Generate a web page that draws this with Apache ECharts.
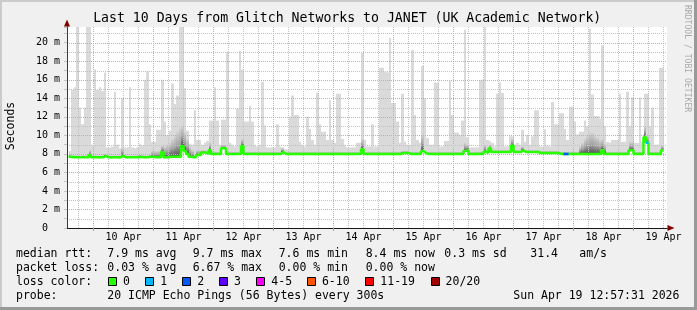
<!DOCTYPE html>
<html>
<head>
<meta charset="utf-8">
<script src="https://cdn.jsdelivr.net/npm/echarts@6/dist/echarts.min.js"></script>
<style>
html,body{margin:0;padding:0;background:#f0f0f0;}
#chart{width:697px;height:310px;}
</style>
</head>
<body>
<div id="chart"></div>
<script>
// ---------------- data ----------------
// hourly bins; hour values are hours after 9 Apr 00:00
const firstHour = 14;

// median RTT (ms) per hourly bin
const median = [
  7.7, 7.63, 7.63, 7.63, 7.63, 7.63, 7.63, 7.63, 7.85, 7.63,
  7.63, 7.63, 7.63, 7.63, 7.8, 7.63, 7.63, 7.63, 7.63, 7.63,
  7.63, 7.8, 7.63, 7.63, 7.63, 7.63, 7.63, 7.63, 7.7, 7.63,
  7.63, 7.63, 7.7, 7.7, 7.63, 7.63, 7.63, 8.2, 7.63, 7.63,
  7.7, 7.7, 7.7, 7.7, 7.7, 8.86, 8.3, 8.0, 7.7, 7.63,
  7.63, 7.88, 7.88, 8.15, 8.15, 8.0, 8.4, 8.0, 8.0, 8.0,
  8.0, 8.6, 8.6, 8.0, 8.0, 8.0, 8.0, 8.0, 8.0, 8.86,
  8.0, 8.0, 8.0, 8.0, 8.0, 8.0, 8.0, 8.0, 8.0, 8.0,
  8.0, 8.0, 8.0, 8.0, 8.0, 8.2, 8.0, 8.0, 8.0, 8.0,
  8.0, 8.0, 8.0, 8.0, 8.0, 8.0, 8.0, 8.0, 8.0, 8.0,
  8.0, 8.0, 8.0, 8.0, 8.0, 8.0, 8.0, 8.0, 8.0, 8.0,
  8.0, 8.0, 8.0, 8.0, 8.0, 8.0, 8.0, 8.5, 8.0, 8.0,
  8.0, 8.0, 8.0, 8.0, 8.0, 8.0, 8.0, 8.0, 8.0, 8.0,
  8.0, 8.0, 8.0, 8.1, 8.1, 8.1, 8.0, 8.0, 8.0, 8.0,
  8.0, 8.3, 8.1, 8.0, 8.0, 8.0, 8.0, 8.0, 8.0, 8.0,
  8.0, 8.0, 8.0, 8.0, 8.0, 8.0, 8.0, 8.0, 8.3, 8.4,
  8.0, 8.0, 8.0, 8.0, 8.0, 8.0, 8.25, 8.1, 8.6, 8.2,
  8.2, 8.2, 8.2, 8.2, 8.2, 8.2, 8.2, 8.9, 8.2, 8.2,
  8.2, 8.4, 8.2, 8.2, 8.2, 8.2, 8.2, 8.2, 8.1, 8.1,
  8.1, 8.1, 8.1, 8.1, 8.1, 8.1, 8.0, 8.0, 8.0, 8.0,
  8.0, 8.0, 8.0, 8.0, 8.0, 8.0, 8.0, 8.0, 8.0, 8.0,
  8.0, 8.0, 8.0, 8.4, 8.0, 8.0, 8.0, 8.0, 8.0, 8.0,
  8.0, 8.0, 8.0, 8.0, 8.4, 8.4, 8.0, 8.0, 8.0, 8.0,
  9.8, 9.2, 8.0, 8.0, 8.0, 8.0, 8.0, 8.4
];

// top of the dense (dark) smoke per bin (ms)
const smokeMid = [
  7.9, 7.83, 7.83, 7.83, 7.83, 7.83, 7.83, 7.83, 8.4, 7.83,
  7.83, 7.83, 7.83, 7.83, 8.0, 7.83, 7.83, 7.83, 7.83, 7.83,
  7.83, 8.6, 7.83, 7.83, 7.83, 7.83, 7.83, 7.83, 7.9, 7.83,
  7.83, 7.83, 7.9, 8.3, 8.3, 8.3, 8.3, 8.9, 8.8, 9.0,
  9.2, 9.6, 10.0, 10.4, 10.8, 11.0, 10.4, 9.6, 8.8, 8.4,
  7.83, 8.4, 8.4, 8.4, 8.4, 8.2, 9.2, 8.2, 8.2, 8.2,
  8.2, 9.0, 9.0, 8.2, 8.2, 8.2, 8.2, 8.2, 8.2, 9.6,
  8.2, 8.2, 8.2, 8.2, 8.2, 8.2, 8.2, 8.2, 8.2, 8.2,
  8.2, 8.2, 8.2, 8.2, 8.2, 8.6, 8.2, 8.2, 8.2, 8.2,
  8.2, 8.2, 8.2, 8.2, 8.2, 8.2, 8.2, 8.2, 8.2, 8.2,
  8.2, 8.2, 8.2, 8.2, 8.2, 8.2, 8.2, 8.2, 8.2, 8.2,
  8.2, 8.2, 8.2, 8.2, 8.2, 8.2, 8.2, 9.6, 8.2, 8.2,
  8.2, 8.2, 8.2, 8.2, 8.2, 8.2, 8.2, 8.2, 8.2, 8.2,
  8.2, 8.2, 8.2, 8.3, 8.3, 8.3, 8.2, 8.2, 8.2, 8.2,
  8.2, 10.1, 8.3, 8.2, 8.2, 8.2, 8.2, 8.2, 8.2, 8.2,
  8.2, 8.2, 8.2, 8.2, 8.2, 8.2, 8.2, 8.2, 9.2, 9.0,
  8.2, 8.2, 8.2, 8.2, 8.2, 8.2, 9.0, 8.3, 9.0, 8.4,
  8.4, 8.4, 8.4, 8.4, 8.4, 8.4, 8.4, 9.6, 8.4, 8.4,
  8.4, 8.8, 8.4, 8.4, 8.4, 8.4, 8.4, 8.4, 8.3, 8.3,
  8.3, 8.3, 8.3, 8.3, 8.3, 8.3, 8.2, 8.2, 8.2, 8.2,
  8.2, 8.2, 8.2, 8.2, 8.8, 9.2, 9.6, 10.0, 10.3, 10.3,
  10.0, 9.8, 9.5, 9.6, 9.1, 8.2, 8.2, 8.2, 8.2, 8.2,
  8.2, 8.2, 8.2, 8.2, 9.3, 9.3, 8.2, 8.2, 8.2, 8.2,
  11.0, 10.0, 8.2, 8.2, 8.2, 8.2, 8.2, 8.9
];

// top of the light smoke (slowest ping) per bin (ms)
const smokeMax = [
  8.3, 14.9, 15.2, 21.7, 13.0, 11.2, 13.0, 21.7, 21.7, 9.0,
  17.1, 14.9, 15.2, 14.8, 16.8, 8.7, 8.7, 8.8, 14.7, 9.0,
  8.6, 14.0, 8.7, 8.7, 15.2, 8.7, 8.6, 8.7, 9.1, 8.9,
  16.0, 16.9, 11.2, 9.3, 9.3, 10.6, 10.6, 16.0, 11.5, 10.0,
  10.5, 15.6, 13.4, 14.3, 21.7, 21.7, 15.1, 10.5, 9.1, 9.0,
  12.7, 9.5, 9.5, 9.0, 9.2, 9.4, 11.6, 11.6, 15.2, 11.6,
  9.0, 11.7, 11.7, 19.0, 9.2, 9.0, 8.8, 12.9, 19.1, 17.1,
  11.5, 11.5, 13.2, 11.5, 9.0, 8.8, 9.0, 15.8, 11.1, 8.7,
  8.7, 8.7, 8.7, 11.2, 8.8, 8.7, 8.5, 8.5, 12.0, 14.3,
  12.2, 12.2, 9.3, 9.0, 8.8, 12.0, 10.7, 9.5, 9.0, 14.6,
  11.2, 10.4, 10.4, 9.5, 13.8, 9.5, 9.2, 14.5, 14.5, 9.6,
  9.0, 8.7, 8.7, 8.7, 8.7, 9.2, 9.2, 18.9, 9.5, 8.8,
  8.8, 11.2, 8.8, 8.8, 17.3, 17.3, 16.9, 16.8, 20.5, 13.5,
  13.5, 11.5, 9.2, 14.5, 9.3, 9.0, 9.0, 19.2, 12.2, 9.5,
  9.2, 17.5, 14.0, 9.7, 9.0, 9.0, 15.7, 15.7, 8.8, 8.8,
  9.4, 9.4, 15.9, 12.2, 10.3, 10.3, 10.0, 11.6, 21.4, 9.8,
  8.7, 8.7, 8.7, 8.7, 16.0, 16.0, 21.7, 9.5, 9.4, 9.2,
  8.8, 14.5, 15.7, 14.6, 8.8, 8.8, 9.9, 9.9, 9.0, 9.2,
  9.0, 10.6, 9.3, 10.0, 9.0, 9.9, 12.7, 12.7, 8.8, 8.8,
  10.7, 8.9, 8.8, 13.6, 11.2, 11.2, 12.4, 12.4, 10.7, 9.5,
  13.1, 13.1, 11.5, 10.1, 10.4, 10.4, 11.6, 11.0, 21.5, 14.4,
  12.1, 12.1, 11.8, 19.7, 11.0, 9.3, 9.2, 9.5, 9.5, 9.5,
  14.5, 9.3, 9.3, 14.7, 11.0, 14.1, 9.2, 9.2, 14.1, 9.3,
  14.5, 14.5, 11.0, 13.0, 9.0, 9.0, 17.3, 17.3
];

// bins that lost pings, and how many were lost
const lossBinHours = [212, 213, 245];
const lossBinCounts = [2, 2, 1];

// x axis tick labels
const dayLabels = ['10 Apr', '11 Apr', '12 Apr', '13 Apr', '14 Apr', '15 Apr', '16 Apr', '17 Apr', '18 Apr', '19 Apr'];
const dayLabelHours = [36, 60, 84, 108, 132, 156, 180, 204, 228, 252];
const midnightHours = [24, 48, 72, 96, 120, 144, 168, 192, 216, 240];

// legend texts
const titleText = 'Last 10 Days from Glitch Networks to JANET (UK Academic Network)';
const rttStats = ['7.9 ms avg', '9.7 ms max', '7.6 ms min', '8.4 ms now', '0.3 ms sd', '31.4', 'am/s'];
const lossStats = ['0.03 % avg', '6.67 % max', '0.00 % min', '0.00 % now'];
const lossLabels = ['0', '1', '2', '3', '4-5', '6-10', '11-19', '20/20'];
const lossColors = ['#26ff00', '#00b8ff', '#0059ff', '#5e00ff', '#ff00ff', '#ff5500', '#ff0000', '#a10000'];
const probeText = '20 ICMP Echo Pings (56 Bytes) every 300s';
const stampText = 'Sun Apr 19 12:57:31 2026';

// ---------------- layout / style ----------------
const X_MIN = 13.4, X_MAX = 253.4, Y_MAX = 21.7;
const MONO = 'DejaVu Sans Mono';
const statCols = [107.3, 192.7, 278.7, 365.7, 444.3, 530.3, 579.3];
const lossBoxX = [108.3, 145.7, 182.7, 219.3, 256.7, 307.3, 365.7, 431];
const rowY = [254.5, 268.3, 282.1, 295.8];
const MINOR = '#c2c2c2';
const MAJOR = '#ee9a9a';

const chart = echarts.init(document.getElementById('chart'), null, {renderer: 'canvas'});

const smokeData = median.map((m, i) => [firstHour + i, m, smokeMid[i], smokeMax[i]]);
const medianData = median.map((m, i) => [firstHour + i, m]);
medianData.push([firstHour + median.length, median[median.length - 1]]);

const darkSmoke = new echarts.graphic.LinearGradient(0, 0, 0, 1, [
  {offset: 0, color: '#d4d4d4'},
  {offset: 0.55, color: '#a4a4a4'},
  {offset: 1, color: '#505050'}
]);

function renderSmoke(params, api) {
  const h = api.value(0), m = api.value(1), mid = api.value(2), top = api.value(3);
  const a = api.coord([h, top]);
  const b = api.coord([h + 1, m]);
  const c = api.coord([h, mid]);
  const x0 = Math.round(a[0]), x1 = Math.round(b[0]);
  return {
    type: 'group',
    children: [
      {type: 'rect', shape: {x: x0, y: a[1], width: x1 - x0, height: b[1] - a[1]}, style: {fill: '#dadada'}},
      {type: 'rect', shape: {x: x0, y: c[1], width: x1 - x0, height: b[1] - c[1]}, style: {fill: darkSmoke}}
    ]
  };
}

// grid lines: horizontal every 1 ms (red every 2), vertical every 6 h (red at midnight)
const hGrid = [];
for (let v = 1; v <= 21; v++) hGrid.push([X_MIN, v, v % 2 ? 0 : 1]);
const vGrid = [];
for (let h = 18; h <= 252; h += 6) vGrid.push([h, 0, h % 24 ? 0 : 1]);

// dotted line drawn as a row of 1x1 pixel dots
function dots(x0, y0, len, horizontal, color) {
  const pts = [];
  for (let d = 0; d < len; d += 2) {
    pts.push(horizontal ? {type: 'rect', shape: {x: x0 + d, y: y0, width: 1, height: 1}, style: {fill: color}}
                        : {type: 'rect', shape: {x: x0, y: y0 + d, width: 1, height: 1}, style: {fill: color}});
  }
  return {type: 'group', children: pts};
}
function renderHGrid(params, api) {
  const v = api.value(1);
  const p0 = api.coord([X_MIN, v]), p1 = api.coord([X_MAX, v]);
  return dots(Math.round(p0[0]), Math.round(p0[1]), Math.round(p1[0] - p0[0]), true, api.value(2) ? MAJOR : MINOR);
}
function renderVGrid(params, api) {
  const h = api.value(0);
  const p0 = api.coord([h, 0]), p1 = api.coord([h, Y_MAX]);
  const top = Math.round(p1[1]);
  return dots(Math.floor(p0[0]), top, Math.round(p0[1]) - top, false, api.value(2) ? MAJOR : MINOR);
}

const series = [
  {
    type: 'custom', name: 'smoke', renderItem: renderSmoke, data: smokeData,
    encode: {x: 0, y: [1, 3]}, z: 1, silent: true, clip: true
  },
  {type: 'custom', name: 'vgrid', renderItem: renderVGrid, data: vGrid, encode: {x: 0, y: 1}, z: 3, silent: true},
  {type: 'custom', name: 'hgrid', renderItem: renderHGrid, data: hGrid, encode: {x: 0, y: 1}, z: 3, silent: true},
  {
    type: 'line', name: 'median', data: medianData, step: 'end', showSymbol: false, symbol: 'none',
    lineStyle: {color: lossColors[0], width: 2.5}, z: 4, silent: true
  }
];
lossBinHours.forEach((h, k) => {
  const v = median[h - firstHour];
  series.push({
    type: 'line', data: [[h, v], [h + 1, v]], showSymbol: false, symbol: 'none',
    lineStyle: {color: lossColors[lossBinCounts[k]], width: 2.5}, z: 5, silent: true
  });
});

const txt = (text, x, y, extra) => Object.assign({
  type: 'text', x: x, y: y, silent: true,
  style: Object.assign({
    text: text, fill: '#000', font: '11.5px "' + MONO + '"',
    align: 'left', verticalAlign: 'middle', textAlign: 'left', textVerticalAlign: 'middle'
  }, (extra && extra.style) || {})
}, extra && extra.rotation !== undefined ? {rotation: extra.rotation} : {});

const graphics = [
  {type: 'rect', shape: {x: 0, y: 0, width: 697, height: 2}, style: {fill: '#cbcbcb'}, silent: true},
  {type: 'rect', shape: {x: 0, y: 0, width: 2, height: 310}, style: {fill: '#cbcbcb'}, silent: true},
  {type: 'rect', shape: {x: 0, y: 307, width: 697, height: 3}, style: {fill: '#999999'}, silent: true},
  {type: 'rect', shape: {x: 694, y: 0, width: 3, height: 310}, style: {fill: '#999999'}, silent: true},
  txt(titleText, 347.2, 18.8, {style: {font: '13.2px "' + MONO + '"', align: 'center', textAlign: 'center'}}),
  txt('Seconds', 11, 126, {rotation: Math.PI / 2, style: {align: 'center', textAlign: 'center'}}),
  txt('RRDTOOL / TOBI OETIKER', 687.5, 5, {rotation: -Math.PI / 2, style: {font: '8.1px "' + MONO + '"', fill: '#a8a8a8'}}),
  txt('median rtt:', 16, rowY[0]),
  txt('packet loss:', 16, rowY[1]),
  txt('loss color:', 16, rowY[2]),
  txt('probe:', 16, rowY[3]),
  txt(probeText, statCols[0], rowY[3]),
  txt(stampText, 513.3, rowY[3])
];
rttStats.forEach((s, i) => graphics.push(txt(s, statCols[i], rowY[0])));
lossStats.forEach((s, i) => graphics.push(txt(s, statCols[i], rowY[1])));
lossLabels.forEach((s, i) => {
  const bx = Math.floor(lossBoxX[i]) + 0.5;
  graphics.push({type: 'rect', shape: {x: bx, y: 277.5, width: 8, height: 8},
    style: {fill: lossColors[i], stroke: '#000', lineWidth: 1}, silent: true});
  graphics.push(txt(s, lossBoxX[i] + 14.6, rowY[2]));
});

const option = {
  animation: false,
  backgroundColor: '#f0f0f0',
  grid: {left: 67, top: 27, width: 600, height: 201, show: true, backgroundColor: '#ffffff', borderWidth: 0, containLabel: false},
  xAxis: [
    {
      type: 'value', min: X_MIN, max: X_MAX, position: 'bottom', z: 3,
      axisLine: {show: true, onZero: false, lineStyle: {color: '#1a1a1a', width: 1}},
      axisTick: {show: true, customValues: midnightHours, length: 3, lineStyle: {color: '#d88a8a'}},
      axisLabel: {
        show: true, customValues: dayLabelHours, margin: 4,
        formatter: v => { const k = dayLabelHours.indexOf(Math.round(v)); return k >= 0 ? dayLabels[k] : ''; },
        fontFamily: MONO, fontSize: 10, color: '#000'
      },
      splitLine: {show: false}
    },
    {
      type: 'value', min: X_MIN, max: X_MAX, position: 'bottom', z: 2,
      axisLine: {show: true, onZero: false, symbol: ['none', 'triangle'], symbolSize: [6, 7], symbolOffset: [0, 4],
        lineStyle: {color: '#7f0000', width: 1}},
      axisTick: {show: false}, axisLabel: {show: false}, splitLine: {show: false}
    }
  ],
  yAxis: [
    {
      type: 'value', min: 0, max: Y_MAX, interval: 1, position: 'left', z: 3,
      axisLine: {show: true, onZero: false, lineStyle: {color: '#3a3a3a', width: 1}},
      axisTick: {show: true, length: 3, lineStyle: {color: '#c4c4c4'}},
      axisLabel: {
        margin: 7, fontFamily: MONO, fontSize: 10, color: '#000',
        formatter: v => (Math.abs(v % 2) < 1e-9 && v <= 20) ? (v === 0 ? '0  ' : v + ' m') : ''
      },
      splitLine: {show: false}
    },
    {
      type: 'value', min: 0, max: Y_MAX, position: 'left', z: 2,
      axisLine: {show: true, onZero: false, symbol: ['none', 'triangle'], symbolSize: [6, 7], symbolOffset: [0, 4],
        lineStyle: {color: '#7f0000', width: 1}},
      axisTick: {show: false}, axisLabel: {show: false}, splitLine: {show: false}
    }
  ],
  series: series,
  graphic: graphics
};
chart.setOption(option);
</script>
</body>
</html>
